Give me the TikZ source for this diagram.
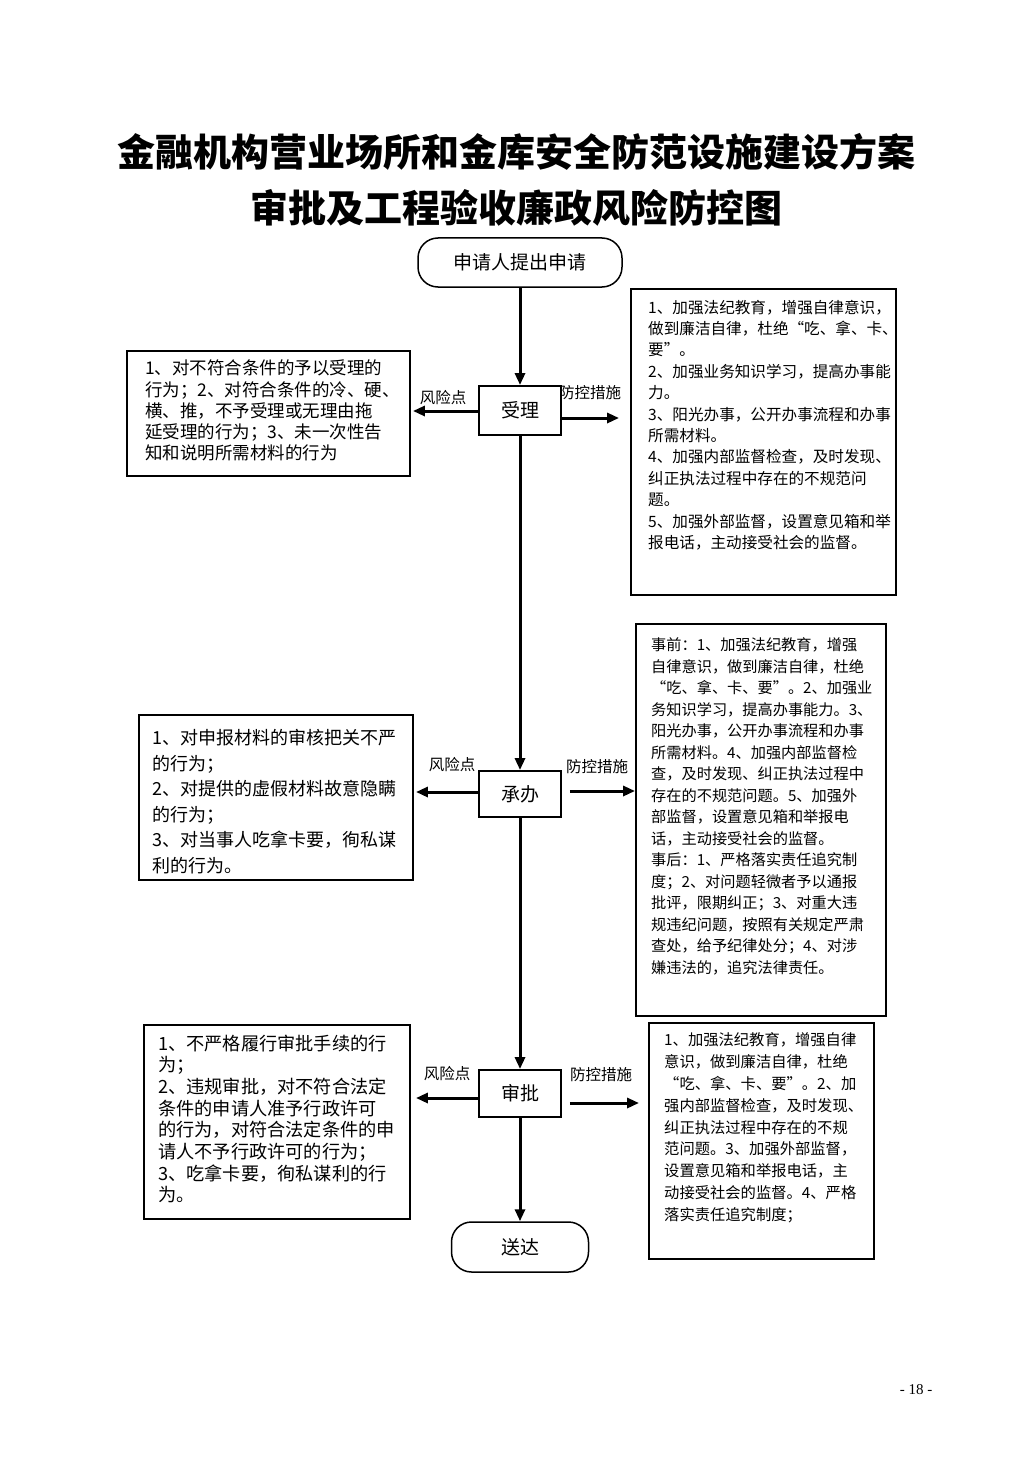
\documentclass[tikz,border=0pt]{standalone}
\usepackage{fontspec}
\newfontfamily\cjk{Noto Sans CJK SC}
\newfontfamily\pnum{Liberation Serif}
\usetikzlibrary{arrows.meta,calc}
\begin{document}
\begin{tikzpicture}[x=1pt,y=-1pt,
  procbox/.style={draw, line width=1.9pt, inner sep=0pt, minimum width=82pt, font=\cjk\fontsize{19}{22}\selectfont},
  termbox/.style={draw, line width=1.5pt, rounded corners=20pt, inner sep=0pt, font=\cjk\fontsize{19}{22}\selectfont},
  infobox/.style={draw, line width=1.9pt, inner sep=0pt},
  txt/.style={anchor=north west, inner sep=0pt, align=left},
  lbl/.style={inner sep=0pt, font=\cjk\fontsize{15.5}{18}\selectfont},
  flow/.style={line width=3pt, -{Triangle[length=12pt,width=10pt]}},
]
\fill[white] (0,0) rectangle (1033,1463);
\useasboundingbox (0,0) rectangle (1033,1463);

% titles
\node[inner sep=0pt, font=\cjk\bfseries\fontsize{38}{40}\selectfont] (title1) at (516,152) {金融机构营业场所和金库安全防范设施建设方案};
\node[inner sep=0pt, font=\cjk\bfseries\fontsize{38}{40}\selectfont] (title2) at (516.5,208) {审批及工程验收廉政风险防控图};

% main flow
\node[termbox, minimum width=204pt, minimum height=49pt] (start) at (520,262.5) {申请人提出申请};
\node[procbox, minimum height=49pt] (shouli) at (520,410.5) {受理};
\node[procbox, minimum height=46pt] (chengban) at (520,794) {承办};
\node[procbox, minimum height=47pt] (shenpi) at (520,1093.5) {审批};
\node[termbox, minimum width=137pt, minimum height=50pt] (songda) at (520,1247) {送达};

% info boxes
\node[infobox, minimum width=283pt, minimum height=125pt] (risk1) at (268.5,413.5) {};
\node[infobox, minimum width=265pt, minimum height=306pt] (ctrl1) at (763.5,442) {};
\node[infobox, minimum width=274pt, minimum height=165pt] (risk2) at (276,797.5) {};
\node[infobox, minimum width=250pt, minimum height=392pt] (ctrl2) at (761,820) {};
\node[infobox, minimum width=266pt, minimum height=194pt] (risk3) at (277,1122) {};
\node[infobox, minimum width=225pt, minimum height=236pt] (ctrl3) at (761.5,1141) {};

% texts
\node[txt, font=\cjk\fontsize{17.5}{21.3}\selectfont] (risk1text) at (145,359.8) {1、对不符合条件的予以受理的\\行为；2、对符合条件的冷、硬、\\横、推，不予受理或无理由拖\\延受理的行为；3、未一次性告\\知和说明所需材料的行为};
\node[txt, font=\cjk\fontsize{15.6}{21.4}\selectfont] (ctrl1text) at (648,299.7) {1、加强法纪教育，增强自律意识，\\做到廉洁自律，杜绝“吃、拿、卡、\\要”。\\2、加强业务知识学习，提高办事能\\力。\\3、阳光办事，公开办事流程和办事\\所需材料。\\4、加强内部监督检查，及时发现、\\纠正执法过程中存在的不规范问\\题。\\5、加强外部监督，设置意见箱和举\\报电话，主动接受社会的监督。};
\node[txt, font=\cjk\fontsize{18}{25.5}\selectfont] (risk2text) at (152,729.5) {1、对申报材料的审核把关不严\\的行为；\\2、对提供的虚假材料故意隐瞒\\的行为；\\3、对当事人吃拿卡要，徇私谋\\利的行为。};
\node[txt, font=\cjk\fontsize{15.2}{21.5}\selectfont] (ctrl2text) at (651,637.9) {事前：1、加强法纪教育，增强\\自律意识，做到廉洁自律，杜绝\\“吃、拿、卡、要”。2、加强业\\务知识学习，提高办事能力。3、\\阳光办事，公开办事流程和办事\\所需材料。4、加强内部监督检\\查，及时发现、纠正执法过程中\\存在的不规范问题。5、加强外\\部监督，设置意见箱和举报电\\话，主动接受社会的监督。\\事后：1、严格落实责任追究制\\度；2、对问题轻微者予以通报\\批评，限期纠正；3、对重大违\\规违纪问题，按照有关规定严肃\\查处，给予纪律处分；4、对涉\\嫌违法的，追究法律责任。};
\node[txt, font=\cjk\fontsize{18.2}{21.7}\selectfont] (risk3text) at (158,1034.4) {1、不严格履行审批手续的行\\为；\\2、违规审批，对不符合法定\\条件的申请人准予行政许可\\的行为，对符合法定条件的申\\请人不予行政许可的行为；\\3、吃拿卡要，徇私谋利的行\\为。};
\node[txt, font=\cjk\fontsize{15.3}{21.8}\selectfont] (ctrl3text) at (664,1032.8) {1、加强法纪教育，增强自律\\意识，做到廉洁自律，杜绝\\“吃、拿、卡、要”。2、加\\强内部监督检查，及时发现、\\纠正执法过程中存在的不规\\范问题。3、加强外部监督，\\设置意见箱和举报电话，主\\动接受社会的监督。4、严格\\落实责任追究制度；};

% labels
\node[lbl] (fx1) at (443,398) {风险点};
\node[lbl] (fk1) at (590,393) {防控措施};
\node[lbl] (fx2) at (452,765) {风险点};
\node[lbl] (fk2) at (597,767) {防控措施};
\node[lbl] (fx3) at (447,1074) {风险点};
\node[lbl] (fk3) at (601,1075) {防控措施};

% connectors
\draw[flow] (start) -- (shouli);
\draw[flow] (shouli) -- (chengban);
\draw[flow] (chengban) -- (shenpi);
\draw[flow] (shenpi) -- (songda);

\draw[flow, shorten >=2pt] ($(shouli.west)+(0,0.5)$) -- ($(risk1.east |- shouli.west)+(0,0.5)$);
\draw[flow, shorten >=11pt] ($(shouli.east)+(0,7.5)$) -- ($(ctrl1.west |- shouli.east)+(0,7.5)$);
\draw[flow, shorten >=2pt] ($(chengban.west)+(0,-2)$) -- ($(risk2.east |- chengban.west)+(0,-2)$);
\draw[flow, shorten <=8pt] ($(chengban.east)+(0,-3)$) -- ($(ctrl2.west |- chengban.east)+(0,-3)$);
\draw[flow, shorten >=5pt] ($(shenpi.west)+(0,4.5)$) -- ($(risk3.east |- shenpi.west)+(0,4.5)$);
\draw[flow, shorten <=8pt, shorten >=9pt] ($(shenpi.east)+(0,9.5)$) -- ($(ctrl3.west |- shenpi.east)+(0,9.5)$);

% page number
\node[inner sep=0pt, font=\pnum\fontsize{15}{18}\selectfont] (pageno) at (916,1390) {- 18 -};
\end{tikzpicture}
\end{document}
